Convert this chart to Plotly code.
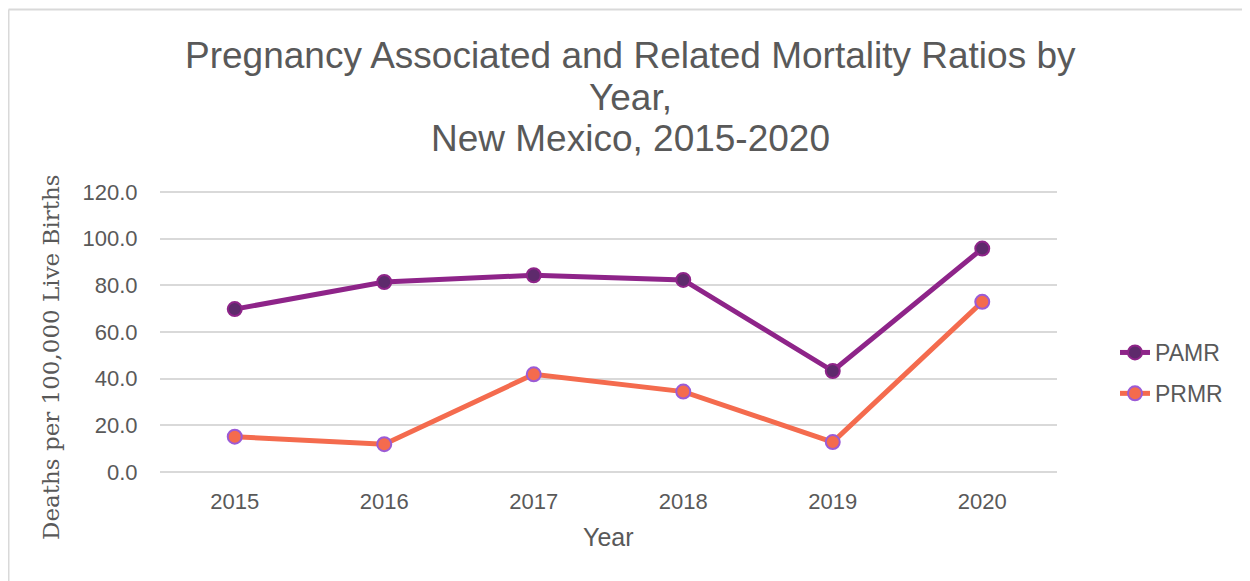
import plotly.graph_objects as go

years = ["2015", "2016", "2017", "2018", "2019", "2020"]
pamr = [69.8, 81.4, 84.3, 82.3, 43.3, 95.7]
prmr = [15.2, 12.0, 41.9, 34.5, 12.9, 72.9]
y_ticks = [0, 20, 40, 60, 80, 100, 120]
title_lines = ["Pregnancy Associated and Related Mortality Ratios by", "Year,", "New Mexico, 2015-2020"]

# page offset of the plot div (default body margin)
OFF = 8
W, H = 1250 - OFF, 581 - OFF
# plot area in page pixels
L, R, T, B = 160, 1057, 189, 475
PAD = 1.2

def px(x):
    return (x - L) / (R - L)

def py(y):
    return (B - y) / (B - T)

GREY = "#595959"

fig = go.Figure()
fig.add_trace(go.Scatter(
    x=years, y=pamr, name="PAMR", mode="lines+markers", legendgroup="a",
    line=dict(color="#8E2489", width=5),
    marker=dict(size=14, color="#5E2A6C", line=dict(color="#8E2489", width=2)),
))
fig.add_trace(go.Scatter(
    x=years, y=prmr, name="PRMR", mode="lines+markers", legendgroup="b",
    line=dict(color="#F46B4E", width=5),
    marker=dict(size=14, color="#F46B4E", line=dict(color="#9B5BD6", width=2)),
))

annotations = []
for line, yy in zip(title_lines, [55, 97, 138]):
    annotations.append(dict(text=line, x=px(630), y=py(yy), xref="paper", yref="paper",
                            showarrow=False, xanchor="center", yanchor="middle",
                            font=dict(size=37, color=GREY)))
annotations += [
    dict(text="Year", x=px(608), y=py(537), xref="paper", yref="paper", showarrow=False,
         xanchor="center", yanchor="middle", font=dict(size=25, color=GREY)),
    dict(text="Deaths per 100,000 Live Births", x=px(51), y=py(357), xref="paper", yref="paper",
         showarrow=False, textangle=-90, xanchor="center", yanchor="middle",
         font=dict(size=23, color=GREY, family="DejaVu Serif, Liberation Serif, serif")),
]

fig.update_layout(
    width=W, height=H,
    margin=dict(l=L - OFF, r=W - (R - OFF), t=T - OFF, b=H - (B - OFF), pad=0),
    paper_bgcolor="white", plot_bgcolor="white",
    font=dict(family="Liberation Sans, Arial, sans-serif", color=GREY),
    showlegend=True,
    legend=dict(x=px(1115), y=py(331), xanchor="left", yanchor="top",
                font=dict(size=23, color=GREY),
                tracegroupgap=8, bgcolor="rgba(0,0,0,0)"),
    xaxis=dict(type="category", range=[-0.5, 5.5], showgrid=False, zeroline=False,
               showline=False, ticks="outside", ticklen=7, tickcolor="rgba(0,0,0,0)",
               tickfont=dict(size=22, color=GREY)),
    yaxis=dict(range=[-PAD, 120 + PAD], tickvals=y_ticks, tickformat=".1f",
               showgrid=True, gridcolor="#D9D9D9", gridwidth=2, zeroline=False,
               showline=False, ticks="outside", ticklen=17, tickcolor="rgba(0,0,0,0)",
               tickfont=dict(size=22, color=GREY)),
    annotations=annotations,
    shapes=[
        dict(type="line", xref="paper", yref="paper", x0=px(8.5), x1=px(1250), y0=py(9.5), y1=py(9.5),
             line=dict(color="#D9D9D9", width=2)),
        dict(type="line", xref="paper", yref="paper", x0=px(8.5), x1=px(8.5), y0=py(9.5), y1=py(581),
             line=dict(color="#D9D9D9", width=2)),
    ],
)

fig.write_html("out.html")
